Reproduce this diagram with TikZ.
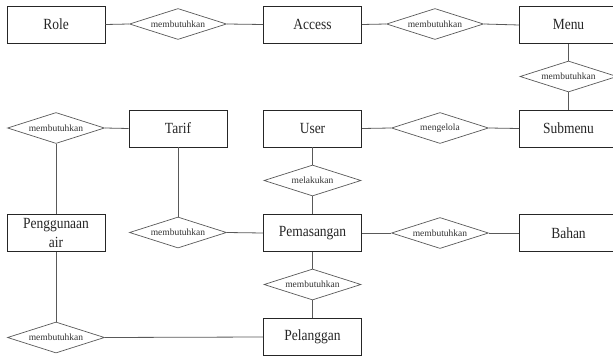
\documentclass[tikz,border=0pt]{standalone}
\usepackage{fontspec}
\setmainfont{Liberation Serif}
\newfontfamily\entfont[FakeStretch=0.87]{Liberation Serif}
\usetikzlibrary{shapes.geometric}
\begin{document}
\begin{tikzpicture}[x=1pt,y=-1pt,
  ent/.style={draw=black!85,line width=0.8pt,minimum width=98pt,minimum height=37pt,inner sep=1pt,
    font=\entfont\fontsize{15.5}{17}\selectfont,text=black!85,align=center,fill=white},
  rel/.style={draw=black!65,line width=0.7pt,diamond,aspect=3.1,minimum width=97pt,minimum height=31pt,inner sep=0pt,
    font=\fontsize{9.5}{10}\selectfont,text=black!80,fill=white},
  conn/.style={draw=black!65,line width=0.8pt}]
\useasboundingbox (0,0) rectangle (613,356);
% entities
\node[ent] (role) at (56,24.5) {Role};
\node[ent] (access) at (312.5,24.5) {Access};
\node[ent] (menu) at (568.5,25) {Menu};
\node[ent] (tarif) at (178,128.5) {Tarif};
\node[ent] (user) at (312.5,128.5) {User};
\node[ent] (submenu) at (568.5,128.5) {Submenu};
\node[ent,font=\entfont\fontsize{15.5}{18.5}\selectfont] (air) at (56,233) {Penggunaan\\air};
\node[ent] (pemasangan) at (312.5,233) {Pemasangan};
\node[ent] (bahan) at (568.5,233) {Bahan};
\node[ent] (pelanggan) at (312.5,337) {Pelanggan};
% relationships
\node[rel] (r1) at (178,24) {membutuhkan};
\node[rel] (r2) at (435,24) {membutuhkan};
\node[rel] (r3) at (568.5,76.5) {membutuhkan};
\node[rel] (r4) at (56,128) {membutuhkan};
\node[rel] (r5) at (440,128) {mengelola};
\node[rel] (r6) at (312.5,180.5) {melakukan};
\node[rel] (r7) at (178,232.5) {membutuhkan};
\node[rel] (r8) at (440,233) {membutuhkan};
\node[rel] (r9) at (312.5,284.5) {membutuhkan};
\node[rel] (r10) at (56,337.5) {membutuhkan};
% connectors
\draw[conn] (role.east) -- (r1.west);
\draw[conn] (r1.east) -- (access.west);
\draw[conn] (access.east) -- (r2.west);
\draw[conn] (r2.east) -- (menu.west);
\draw[conn] (menu.south) -- (r3.north);
\draw[conn] (r3.south) -- (submenu.north);
\draw[conn] (r4.east) -- (tarif.west);
\draw[conn] (r4.south) -- (air.north);
\draw[conn] (tarif.south) -- (r7.north);
\draw[conn] (r7.east) -- (pemasangan.west);
\draw[conn] (user.east) -- (r5.west);
\draw[conn] (r5.east) -- (submenu.west);
\draw[conn] (user.south) -- (r6.north);
\draw[conn] (r6.south) -- (pemasangan.north);
\draw[conn] (pemasangan.east) -- (r8.west);
\draw[conn] (r8.east) -- (bahan.west);
\draw[conn] (pemasangan.south) -- (r9.north);
\draw[conn] (r9.south) -- (pelanggan.north);
\draw[conn] (air.south) -- (r10.north);
\draw[conn] (r10.east) -- (pelanggan.west);
\end{tikzpicture}
\end{document}
